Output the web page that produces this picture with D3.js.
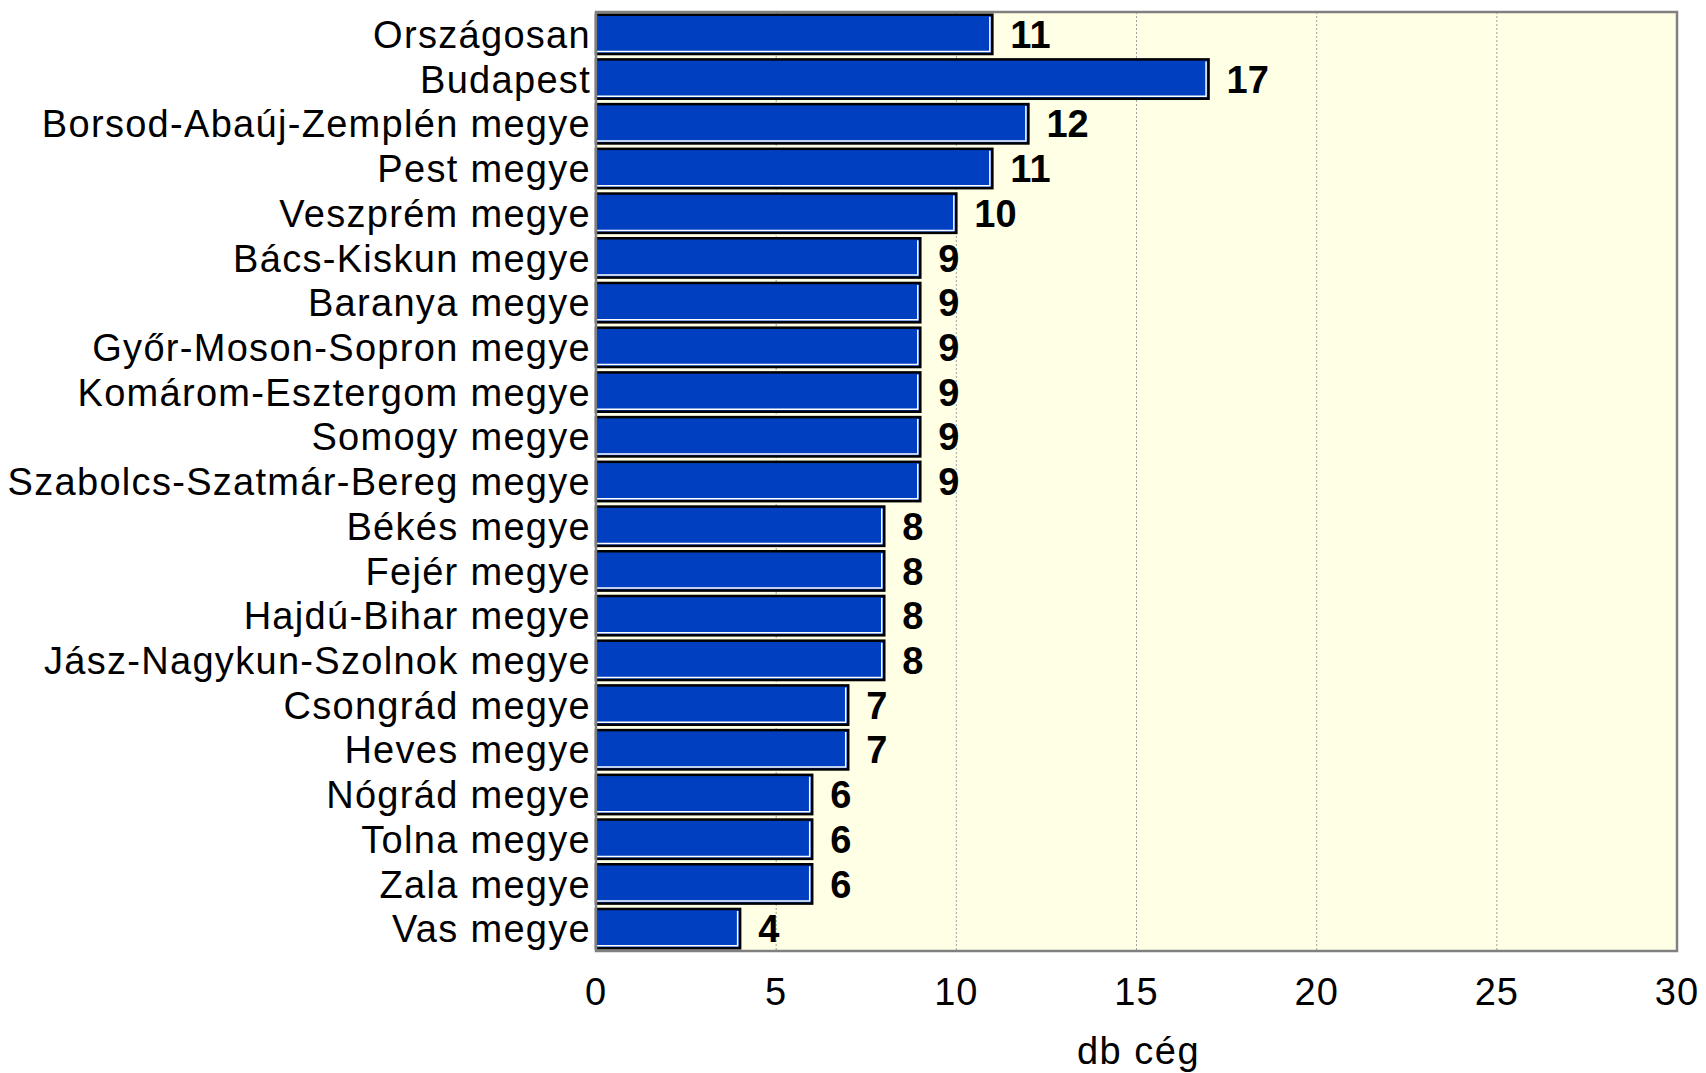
<!DOCTYPE html>
<html>
<head>
<meta charset="utf-8">
<script src="https://cdn.jsdelivr.net/npm/d3@7"></script>
<style>
  body { margin: 0; background: #fff; }
  svg text { font-family: "Liberation Sans", Arial, sans-serif; }
</style>
</head>
<body>
<svg id="chart" width="1706" height="1073"></svg>
<script>
var categories = [
  'Országosan', 'Budapest', 'Borsod-Abaúj-Zemplén megye', 'Pest megye',
  'Veszprém megye', 'Bács-Kiskun megye', 'Baranya megye', 'Győr-Moson-Sopron megye',
  'Komárom-Esztergom megye', 'Somogy megye', 'Szabolcs-Szatmár-Bereg megye',
  'Békés megye', 'Fejér megye', 'Hajdú-Bihar megye', 'Jász-Nagykun-Szolnok megye',
  'Csongrád megye', 'Heves megye', 'Nógrád megye', 'Tolna megye', 'Zala megye', 'Vas megye'
]
var values = [11, 17, 12, 11, 10, 9, 9, 9, 9, 9, 9, 8, 8, 8, 8, 7, 7, 6, 6, 6, 4]
var xTicks = [0, 5, 10, 15, 20, 25, 30]
var xTitle = 'db cég'

var svg = d3.select('#chart')
// plot area edges (note: "top" is reserved on window)
var pLeft = 596, pRight = 1677, pTop = 12, pBottom = 951

var x = d3.scaleLinear().domain([0, 30]).range([pLeft, pRight])
var y = d3.scaleBand().domain(categories).range([pTop, pBottom]).paddingInner(0.12).paddingOuter(0.06)

// plot area
svg.append('rect')
  .attr('x', pLeft).attr('y', pTop)
  .attr('width', pRight - pLeft).attr('height', pBottom - pTop)
  .attr('fill', '#ffffe6')

// gridlines
svg.append('g')
  .selectAll('line')
  .data(xTicks.slice(1, -1))
  .enter()
  .append('line')
  .attr('x1', function(d) { return x(d) }).attr('x2', function(d) { return x(d) })
  .attr('y1', pTop).attr('y2', pBottom)
  .attr('stroke', '#a0a0a0')
  .attr('stroke-width', 1)
  .attr('stroke-dasharray', '2,2')

// bars
var bars = svg.append('g')
  .selectAll('g')
  .data(values)
  .enter()
  .append('g')

bars.append('rect')
  .attr('x', x(0))
  .attr('y', function(d, i) { return y(categories[i]) })
  .attr('width', function(d) { return x(d) - x(0) })
  .attr('height', y.bandwidth())
  .attr('fill', '#0040c0')
  .attr('stroke', '#000')
  .attr('stroke-width', 2.5)

// white inner edge on the right and bottom
bars.append('path')
  .attr('d', function(d, i) {
    var y0 = y(categories[i]) + 2, y1 = y(categories[i]) + y.bandwidth() - 2.5
    var x1 = x(d) - 2.5
    return 'M' + x(0) + ',' + y1 + 'L' + x1 + ',' + y1 + 'L' + x1 + ',' + y0
  })
  .attr('fill', 'none')
  .attr('stroke', '#fff')
  .attr('stroke-width', 1.5)

// value labels
bars.append('text')
  .attr('x', function(d) { return x(d) + 18 })
  .attr('y', function(d, i) { return y(categories[i]) + y.bandwidth() / 2 })
  .attr('dy', '0.36em')
  .attr('font-size', 38)
  .attr('font-weight', 'bold')
  .attr('fill', '#000')
  .text(function(d) { return d })

// border
svg.append('rect')
  .attr('x', pLeft).attr('y', pTop)
  .attr('width', pRight - pLeft).attr('height', pBottom - pTop)
  .attr('fill', 'none')
  .attr('stroke', '#808080')
  .attr('stroke-width', 2.5)

// category labels
svg.append('g')
  .selectAll('text')
  .data(categories)
  .enter()
  .append('text')
  .attr('x', pLeft - 5)
  .attr('y', function(d) { return y(d) + y.bandwidth() / 2 })
  .attr('dy', '0.36em')
  .attr('text-anchor', 'end')
  .attr('font-size', 38)
  .attr('letter-spacing', 1.3)
  .attr('fill', '#000')
  .text(function(d) { return d })

// x tick labels
svg.append('g')
  .selectAll('text')
  .data(xTicks)
  .enter()
  .append('text')
  .attr('x', function(d) { return x(d) })
  .attr('y', 1005)
  .attr('text-anchor', 'middle')
  .attr('font-size', 38)
  .attr('letter-spacing', 1)
  .attr('fill', '#000')
  .text(function(d) { return d })

svg.append('text')
  .attr('x', (pLeft + pRight) / 2 + 2)
  .attr('y', 1064)
  .attr('text-anchor', 'middle')
  .attr('font-size', 38)
  .attr('letter-spacing', 1.5)
  .attr('fill', '#000')
  .text(xTitle)
</script>
</body>
</html>
